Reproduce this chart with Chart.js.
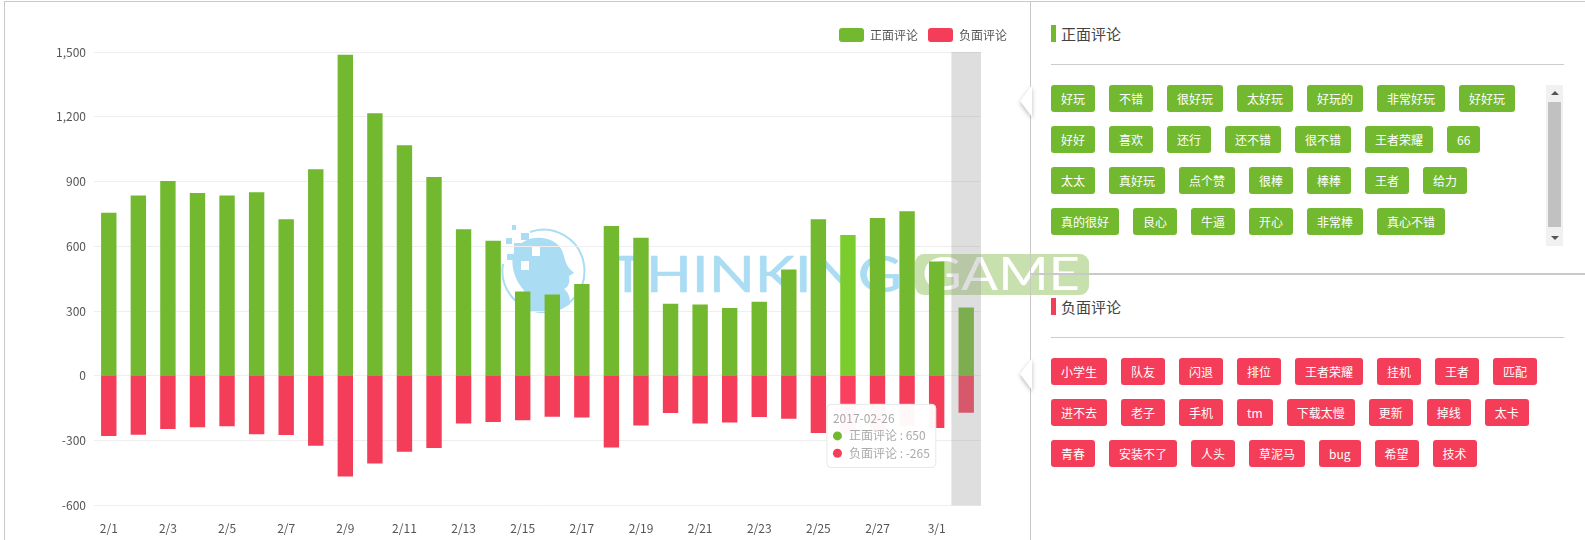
<!DOCTYPE html>
<html lang="zh-CN">
<head>
    <meta charset="UTF-8">
    <title>正面评论 / 负面评论</title>
    <script src="https://cdn.jsdelivr.net/npm/chart.js"></script>
    <style>
        html, body { margin: 0; padding: 0; background: #fff; }
        body { position: relative; width: 1585px; height: 540px; overflow: hidden; font-family: "Noto Sans CJK SC", sans-serif; }

        #watermark { position: absolute; left: 0; top: 0; z-index: 0; }
        #reviewChart { position: absolute; left: 0; top: 0; z-index: 1; }

        .line { position: absolute; background: #c9c9c9; z-index: 2; }
        .notch { position: absolute; left: 1020px; width: 12px; height: 32px; z-index: 3; filter: drop-shadow(0 2px 2px rgba(0,0,0,.28)); }
        .notch div { width: 100%; height: 100%; background: #fff; clip-path: polygon(100% 0, 0 50%, 100% 100%); }

        .panel { position: absolute; left: 1051px; z-index: 3; }
        .panel h3 { margin: 0; height: 17px; line-height: 17px; font-size: 15px; font-weight: normal; color: #444; padding-left: 5px; border-left: 5px solid; }
        .panel hr { position: absolute; left: 0; top: 39px; width: 513px; margin: 0; border: 0; border-top: 1px solid #ccc; }
        .tags { position: absolute; left: 0; top: 60px; display: flex; flex-wrap: wrap; }
        .tags span { height: 27px; line-height: 27px; padding: 0 10px; margin: 0 14px 14px 0; border-radius: 3px; font-size: 12px; color: #fff; white-space: nowrap; }

        .scroll { position: absolute; left: 1546px; top: 85px; width: 17px; height: 161px; background: #f1f1f1; z-index: 3; }
        .scroll .thumb { position: absolute; left: 2px; top: 17px; width: 13px; height: 125px; background: #c1c1c1; }
        .scroll .up, .scroll .down { position: absolute; left: 5px; width: 0; height: 0; border-left: 4px solid transparent; border-right: 4px solid transparent; }
        .scroll .up { top: 6px; border-bottom: 4px solid #555; }
        .scroll .down { bottom: 6px; border-top: 4px solid #555; }
    </style>
</head>
<body>

    <svg id="watermark" width="1100" height="540" xmlns="http://www.w3.org/2000/svg">
        <g fill="#aadcf3">
            <path d="M527 240 C540 234 560 240 563 253 C565 260 566 264 569 268 L574 273 L569 276 C570 282 569 287 564 289 C568 292 570 296 570 304 C562 310 552 313 543 313 C535 313 528 311 522 306 C527 298 526 292 522 288 C514 278 511 265 513 255 C515 248 520 243 527 240 Z"/>
            <rect x="521" y="233" width="8" height="7"/>
            <rect x="514" y="243" width="8" height="8"/>
            <rect x="506" y="238" width="6" height="6"/>
            <rect x="512" y="225" width="4" height="5"/>
            <rect x="507" y="254" width="6" height="6"/>
        </g>
        <rect x="532" y="247" width="8" height="9" fill="#fff"/>
        <rect x="521" y="261" width="8" height="9" fill="#fff"/>
        <path d="M530 232 A41 41 0 1 1 503 264" fill="none" stroke="#aadcf3" stroke-width="2"/>
        <text x="610" y="292" font-family="Lato" font-size="50" font-weight="400" fill="#aadcf3" stroke="#aadcf3" stroke-width="0.6" stroke-linejoin="round" textLength="292" lengthAdjust="spacingAndGlyphs">THINKING</text>
        <rect x="915" y="254" width="174" height="41" rx="9" fill="#c8e0ae"/>
        <text x="922" y="290" font-family="Lato" font-size="46" font-weight="400" fill="#fff" textLength="158" lengthAdjust="spacingAndGlyphs">GAME</text>
    </svg>

    <canvas id="reviewChart" width="1030" height="540"></canvas>

    <div class="line" style="left:4px; top:1px; width:1581px; height:1px;"></div>
    <div class="line" style="left:4px; top:1px; width:1px; height:539px;"></div>
    <div class="line" style="left:1030px; top:1px; width:1px; height:539px;"></div>
    <div class="line" style="left:1030px; top:273px; width:555px; height:2px;"></div>

    <div class="notch" style="top:85px;"><div></div></div>
    <div class="notch" style="top:358px;"><div></div></div>

    <div class="panel" style="top:25px;">
        <h3 id="posTitle" style="border-color:#72b92f;"></h3>
        <hr>
        <div class="tags" id="posTags" style="width:494px;"></div>
    </div>
    <div class="scroll"><div class="up"></div><div class="thumb"></div><div class="down"></div></div>

    <div class="panel" style="top:298px;">
        <h3 id="negTitle" style="border-color:#f43d58;"></h3>
        <hr>
        <div class="tags" id="negTags" style="width:513px;"></div>
    </div>

    <script>
        const reviewDates = [
            '2017-02-01', '2017-02-02', '2017-02-03', '2017-02-04', '2017-02-05', '2017-02-06',
            '2017-02-07', '2017-02-08', '2017-02-09', '2017-02-10', '2017-02-11', '2017-02-12',
            '2017-02-13', '2017-02-14', '2017-02-15', '2017-02-16', '2017-02-17', '2017-02-18',
            '2017-02-19', '2017-02-20', '2017-02-21', '2017-02-22', '2017-02-23', '2017-02-24',
            '2017-02-25', '2017-02-26', '2017-02-27', '2017-02-28', '2017-03-01', '2017-03-02'
        ];
        const positiveCounts = [
            753, 833, 900, 844, 833, 847, 722, 954, 1485, 1213,
            1065, 918, 676, 623, 388, 374, 422, 691, 637, 331,
            328, 311, 340, 490, 722, 650, 728, 760, 527, 314
        ];
        const negativeCounts = [
            -276, -270, -244, -236, -231, -268, -272, -321, -464, -404,
            -349, -332, -218, -211, -203, -187, -190, -329, -227, -170,
            -218, -214, -188, -196, -262, -265, -250, -230, -239, -168
        ];
        const positiveLabel = '正面评论';
        const negativeLabel = '负面评论';
        const positiveTags = [
            '好玩', '不错', '很好玩', '太好玩', '好玩的', '非常好玩', '好好玩',
            '好好', '喜欢', '还行', '还不错', '很不错', '王者荣耀', '66',
            '太太', '真好玩', '点个赞', '很棒', '棒棒', '王者', '给力',
            '真的很好', '良心', '牛逼', '开心', '非常棒', '真心不错'
        ];
        const negativeTags = [
            '小学生', '队友', '闪退', '排位', '王者荣耀', '挂机', '王者', '匹配',
            '进不去', '老子', '手机', 'tm', '下载太慢', '更新', '掉线', '太卡',
            '青春', '安装不了', '人头', '草泥马', 'bug', '希望', '技术'
        ];

        const GREEN = '#72b92f';
        const RED = '#f43d58';
        const FONT = '"Noto Sans CJK SC", sans-serif';
        const focusIndex = 25;
        const shadedIndex = 29;

        function fillTags(id, tags, color) {
            const box = document.getElementById(id);
            tags.forEach(t => {
                const s = document.createElement('span');
                s.textContent = t;
                s.style.background = color;
                box.appendChild(s);
            });
        }
        document.getElementById('posTitle').textContent = positiveLabel;
        document.getElementById('negTitle').textContent = negativeLabel;
        fillTags('posTags', positiveTags, GREEN);
        fillTags('negTags', negativeTags, RED);

        // grey band over the last category
        const bandPlugin = {
            id: 'band',
            afterDatasetsDraw(chart) {
                const x = chart.scales.x, area = chart.chartArea, c = chart.ctx;
                const step = x.getPixelForValue(1) - x.getPixelForValue(0);
                c.save();
                c.fillStyle = 'rgba(150,150,150,0.31)';
                c.fillRect(x.getPixelForValue(shadedIndex) - step / 2, area.top, step, area.bottom - area.top);
                c.restore();
            }
        };

        // legend sits further right than the plot
        const legendPlugin = {
            id: 'legendShift',
            afterLayout(chart) { chart.legend.right = 1017; }
        };

        Chart.Tooltip.positioners.besideBar = function (items) {
            if (!items.length) return false;
            return { x: items[0].element.x - 17, y: this.chart.scales.y.getPixelForValue(-132) };
        };

        const chart = new Chart(document.getElementById('reviewChart'), {
            type: 'bar',
            data: {
                labels: reviewDates,
                datasets: [
                    { label: positiveLabel, data: positiveCounts, backgroundColor: GREEN, hoverBackgroundColor: '#7bcc2d' },
                    { label: negativeLabel, data: negativeCounts, backgroundColor: RED, hoverBackgroundColor: '#fb3f5e' }
                ]
            },
            options: {
                responsive: false,
                animation: false,
                events: [],
                layout: { padding: { top: 18, right: 49, left: 0, bottom: 0 } },
                datasets: { bar: { categoryPercentage: 1, barPercentage: 0.48, inflateAmount: 0.6 } },
                scales: {
                    x: {
                        stacked: true,
                        grid: { display: false },
                        border: { display: false },
                        afterFit(axis) { axis.height = 34.7; },
                        ticks: {
                            autoSkip: false,
                            maxRotation: 0,
                            padding: 8,
                            color: '#555',
                            font: { family: FONT, size: 12 },
                            callback(v, i) {
                                if (i % 2) return '';
                                const p = reviewDates[i].split('-');
                                return Number(p[1]) + '/' + Number(p[2]);
                            }
                        }
                    },
                    y: {
                        stacked: true,
                        min: -600,
                        max: 1500,
                        grid: { color: '#eeeeee', drawTicks: false },
                        border: { display: false },
                        afterFit(axis) { axis.width = 94; },
                        ticks: {
                            stepSize: 300,
                            padding: 8,
                            color: '#555',
                            font: { family: FONT, size: 12 },
                            callback: v => v.toLocaleString('en-US')
                        }
                    }
                },
                plugins: {
                    legend: {
                        position: 'top',
                        align: 'end',
                        labels: {
                            boxWidth: 25,
                            boxHeight: 14,
                            padding: 10,
                            color: '#555',
                            font: { family: FONT, size: 12 },
                            useBorderRadius: true,
                            borderRadius: 3
                        }
                    },
                    tooltip: {
                        enabled: true,
                        position: 'besideBar',
                        xAlign: 'left',
                        yAlign: 'top',
                        caretSize: 0,
                        caretPadding: 0,
                        backgroundColor: 'rgba(255,255,255,0.96)',
                        borderColor: '#e8e8e8',
                        borderWidth: 1,
                        cornerRadius: 4,
                        padding: { top: 7, bottom: 7, left: 6, right: 6 },
                        titleColor: '#aaa',
                        bodyColor: '#aaa',
                        titleFont: { family: FONT, size: 12, weight: 'normal' },
                        bodyFont: { family: FONT, size: 12 },
                        titleMarginBottom: 3,
                        bodySpacing: 3,
                        boxWidth: 9,
                        boxHeight: 9,
                        boxPadding: 5,
                        usePointStyle: true,
                        callbacks: {
                            title: items => items[0].label,
                            label: item => item.dataset.label + ' : ' + item.raw,
                            labelColor: item => ({ backgroundColor: item.datasetIndex ? RED : GREEN, borderColor: 'transparent', borderWidth: 0 }),
                            labelPointStyle: () => ({ pointStyle: 'circle', rotation: 0 })
                        }
                    }
                }
            },
            plugins: [bandPlugin, legendPlugin]
        });

        const active = [{ datasetIndex: 0, index: focusIndex }, { datasetIndex: 1, index: focusIndex }];
        chart.setActiveElements(active);
        chart.tooltip.setActiveElements(active, { x: 0, y: 0 });
        chart.update();
    </script>
</body>
</html>
